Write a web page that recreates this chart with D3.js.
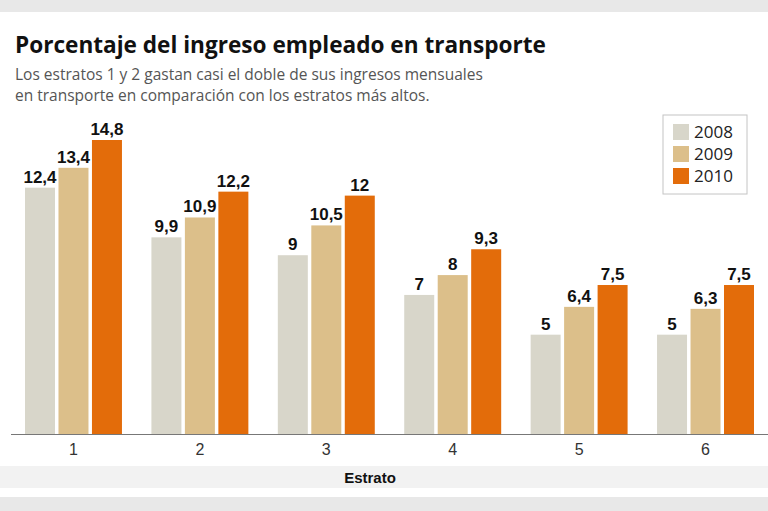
<!DOCTYPE html>
<html lang="es">
<head>
<meta charset="utf-8">
<script src="https://d3js.org/d3.v7.min.js"></script>
<style>
  body { margin: 0; background: #fff; }
  svg { display: block; font-family: 'Open Sans', sans-serif; }
  .val { font-family: 'Liberation Sans', Arial, sans-serif; font-weight: bold; font-size: 17px; fill: #111; }
  .tick-lbl { font-size: 16px; fill: #333; }
</style>
</head>
<body>
<div id="chart"></div>
<script>
// data
var estratos = ["1", "2", "3", "4", "5", "6"];
var years = ["2008", "2009", "2010"];
var v2008 = [12.4, 9.9, 9, 7, 5, 5];
var v2009 = [13.4, 10.9, 10.5, 8, 6.4, 6.3];
var v2010 = [14.8, 12.2, 12, 9.3, 7.5, 7.5];
var colors = ["#d8d6ca", "#dcbf8a", "#e36c0a"];

var series = [v2008, v2009, v2010];
var width = 768, height = 511;
var baseY = 434;

var svg = d3.select("#chart").append("svg")
  .attr("width", width)
  .attr("height", height);

// background bands
svg.append("rect").attr("x", 0).attr("y", 0).attr("width", width).attr("height", 12).attr("fill", "#e8e8e8");
svg.append("rect").attr("x", 0).attr("y", 466).attr("width", width).attr("height", 22).attr("fill", "#f2f2f2");
svg.append("rect").attr("x", 0).attr("y", 497).attr("width", width).attr("height", 14).attr("fill", "#e8e8e8");

// titles
svg.append("text")
  .attr("x", 15).attr("y", 53)
  .style("font-size", "22.6px").style("font-weight", "bold").style("fill", "#111")
  .text("Porcentaje del ingreso empleado en transporte");
svg.append("text")
  .attr("x", 15).attr("y", 80)
  .style("font-size", "15.5px").style("fill", "#555")
  .text("Los estratos 1 y 2 gastan casi el doble de sus ingresos mensuales");
svg.append("text")
  .attr("x", 15).attr("y", 101)
  .style("font-size", "15.5px").style("fill", "#555")
  .text("en transporte en comparación con los estratos más altos.");

// scales
var x0 = d3.scaleBand()
  .domain(estratos)
  .range([25, 754])
  .paddingInner(0.233)
  .paddingOuter(0);

var x1 = d3.scaleBand()
  .domain(years)
  .range([0, x0.bandwidth()])
  .paddingInner(0.104);

var y = d3.scaleLinear()
  .domain([0, 14.8])
  .range([baseY, 140]);

var fmt = function(v) { return String(v).replace(".", ","); };

// bars
var groups = svg.selectAll("g.group")
  .data(estratos)
  .enter().append("g")
  .attr("class", "group")
  .attr("transform", function(d) { return "translate(" + x0(d) + ",0)"; });

groups.selectAll("rect")
  .data(function(d, i) { return years.map(function(yr, j) { return { year: yr, j: j, value: series[j][i] }; }); })
  .enter().append("rect")
  .attr("x", function(d) { return x1(d.year); })
  .attr("y", function(d) { return y(d.value); })
  .attr("width", x1.bandwidth())
  .attr("height", function(d) { return baseY - y(d.value); })
  .attr("fill", function(d) { return colors[d.j]; });

groups.selectAll("text.val")
  .data(function(d, i) { return years.map(function(yr, j) { return { year: yr, j: j, value: series[j][i] }; }); })
  .enter().append("text")
  .attr("class", "val")
  .attr("x", function(d) { return x1(d.year) + x1.bandwidth() / 2; })
  .attr("y", function(d) { return y(d.value) - 5; })
  .attr("text-anchor", "middle")
  .text(function(d) { return fmt(d.value); });

// x axis
var axis = svg.append("g")
  .attr("transform", "translate(0," + baseY + ")")
  .call(d3.axisBottom(x0).tickSize(0).tickPadding(10));
axis.select(".domain").remove();
axis.selectAll("text").attr("class", "tick-lbl").attr("font-family", null).attr("font-size", null);
svg.append("line")
  .attr("x1", 11).attr("x2", width).attr("y1", baseY + 0.5).attr("y2", baseY + 0.5)
  .attr("stroke", "#777").attr("stroke-width", 1.2);

svg.append("text")
  .attr("x", 370).attr("y", 483)
  .attr("text-anchor", "middle")
  .attr("class", "val")
  .style("font-size", "15px")
  .text("Estrato");

// legend
var legend = svg.append("g").attr("transform", "translate(663,115)");
legend.append("rect")
  .attr("width", 84).attr("height", 79)
  .attr("fill", "#fff").attr("stroke", "#c4c4c4");
var items = legend.selectAll("g.item")
  .data(years)
  .enter().append("g")
  .attr("class", "item")
  .attr("transform", function(d, i) { return "translate(10," + (9 + i * 22) + ")"; });
items.append("rect")
  .attr("width", 16).attr("height", 16)
  .attr("fill", function(d, i) { return colors[i]; });
items.append("text")
  .attr("x", 21).attr("y", 14)
  .style("font-size", "17px").style("fill", "#222")
  .text(function(d) { return d; });
</script>
</body>
</html>
